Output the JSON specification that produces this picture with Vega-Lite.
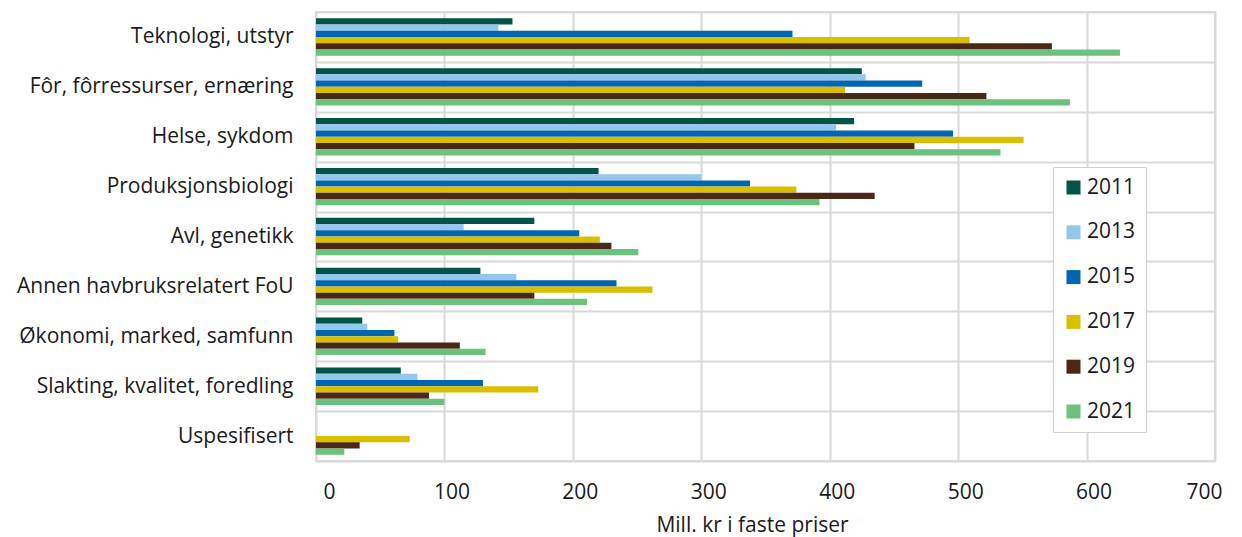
{
  "$schema": "https://vega.github.io/schema/vega-lite/v6.json",
  "width": 899,
  "height": 449,
  "autosize": {"type": "none"},
  "padding": {"left": 316, "top": 12, "right": 27, "bottom": 76},
  "background": "white",
  "config": {"font": "Open Sans", "view": {"stroke": "#d9d9d9", "strokeWidth": 2}},
  "data": {
    "values": [
      {"kategori": "Teknologi, utstyr", "aar": "2011", "verdi": 153},
      {"kategori": "Teknologi, utstyr", "aar": "2013", "verdi": 142},
      {"kategori": "Teknologi, utstyr", "aar": "2015", "verdi": 371},
      {"kategori": "Teknologi, utstyr", "aar": "2017", "verdi": 509},
      {"kategori": "Teknologi, utstyr", "aar": "2019", "verdi": 573},
      {"kategori": "Teknologi, utstyr", "aar": "2021", "verdi": 626},
      {"kategori": "Fôr, fôrressurser, ernæring", "aar": "2011", "verdi": 425},
      {"kategori": "Fôr, fôrressurser, ernæring", "aar": "2013", "verdi": 428},
      {"kategori": "Fôr, fôrressurser, ernæring", "aar": "2015", "verdi": 472},
      {"kategori": "Fôr, fôrressurser, ernæring", "aar": "2017", "verdi": 412},
      {"kategori": "Fôr, fôrressurser, ernæring", "aar": "2019", "verdi": 522},
      {"kategori": "Fôr, fôrressurser, ernæring", "aar": "2021", "verdi": 587},
      {"kategori": "Helse, sykdom", "aar": "2011", "verdi": 419},
      {"kategori": "Helse, sykdom", "aar": "2013", "verdi": 405},
      {"kategori": "Helse, sykdom", "aar": "2015", "verdi": 496},
      {"kategori": "Helse, sykdom", "aar": "2017", "verdi": 551},
      {"kategori": "Helse, sykdom", "aar": "2019", "verdi": 466},
      {"kategori": "Helse, sykdom", "aar": "2021", "verdi": 533},
      {"kategori": "Produksjonsbiologi", "aar": "2011", "verdi": 220},
      {"kategori": "Produksjonsbiologi", "aar": "2013", "verdi": 300},
      {"kategori": "Produksjonsbiologi", "aar": "2015", "verdi": 338},
      {"kategori": "Produksjonsbiologi", "aar": "2017", "verdi": 374},
      {"kategori": "Produksjonsbiologi", "aar": "2019", "verdi": 435},
      {"kategori": "Produksjonsbiologi", "aar": "2021", "verdi": 392},
      {"kategori": "Avl, genetikk", "aar": "2011", "verdi": 170},
      {"kategori": "Avl, genetikk", "aar": "2013", "verdi": 115},
      {"kategori": "Avl, genetikk", "aar": "2015", "verdi": 205},
      {"kategori": "Avl, genetikk", "aar": "2017", "verdi": 221},
      {"kategori": "Avl, genetikk", "aar": "2019", "verdi": 230},
      {"kategori": "Avl, genetikk", "aar": "2021", "verdi": 251},
      {"kategori": "Annen havbruksrelatert FoU", "aar": "2011", "verdi": 128},
      {"kategori": "Annen havbruksrelatert FoU", "aar": "2013", "verdi": 156},
      {"kategori": "Annen havbruksrelatert FoU", "aar": "2015", "verdi": 234},
      {"kategori": "Annen havbruksrelatert FoU", "aar": "2017", "verdi": 262},
      {"kategori": "Annen havbruksrelatert FoU", "aar": "2019", "verdi": 170},
      {"kategori": "Annen havbruksrelatert FoU", "aar": "2021", "verdi": 211},
      {"kategori": "Økonomi, marked, samfunn", "aar": "2011", "verdi": 36},
      {"kategori": "Økonomi, marked, samfunn", "aar": "2013", "verdi": 40},
      {"kategori": "Økonomi, marked, samfunn", "aar": "2015", "verdi": 61},
      {"kategori": "Økonomi, marked, samfunn", "aar": "2017", "verdi": 64},
      {"kategori": "Økonomi, marked, samfunn", "aar": "2019", "verdi": 112},
      {"kategori": "Økonomi, marked, samfunn", "aar": "2021", "verdi": 132},
      {"kategori": "Slakting, kvalitet, foredling", "aar": "2011", "verdi": 66},
      {"kategori": "Slakting, kvalitet, foredling", "aar": "2013", "verdi": 79},
      {"kategori": "Slakting, kvalitet, foredling", "aar": "2015", "verdi": 130},
      {"kategori": "Slakting, kvalitet, foredling", "aar": "2017", "verdi": 173},
      {"kategori": "Slakting, kvalitet, foredling", "aar": "2019", "verdi": 88},
      {"kategori": "Slakting, kvalitet, foredling", "aar": "2021", "verdi": 100},
      {"kategori": "Uspesifisert", "aar": "2017", "verdi": 73},
      {"kategori": "Uspesifisert", "aar": "2019", "verdi": 34},
      {"kategori": "Uspesifisert", "aar": "2021", "verdi": 22}
    ]
  },
  "mark": {"type": "bar"},
  "encoding": {
    "y": {
      "field": "kategori",
      "type": "nominal",
      "sort": null,
      "scale": {"paddingInner": 0, "paddingOuter": 0},
      "axis": {
        "title": null,
        "tickBand": "extent",
        "grid": true,
        "gridColor": "#d9d9d9",
        "gridWidth": 2,
        "ticks": false,
        "domain": false,
        "labelFontSize": 21,
        "labelColor": "#1a1a1a",
        "labelPadding": 23,
        "labelLimit": 400
      }
    },
    "yOffset": {
      "field": "aar",
      "type": "nominal",
      "scale": {"paddingInner": 0, "paddingOuter": 1.15}
    },
    "x": {
      "field": "verdi",
      "type": "quantitative",
      "scale": {"domain": [0, 700], "nice": false},
      "axis": {
        "values": [0, 100, 200, 300, 400, 500, 600, 700],
        "title": "Mill. kr i faste priser",
        "grid": true,
        "gridColor": "#d9d9d9",
        "gridWidth": 2,
        "ticks": false,
        "domain": false,
        "labelFontSize": 21,
        "labelColor": "#1a1a1a",
        "labelPadding": 20,
        "labelOffset": 7,
        "titleFontSize": 21,
        "titleFontWeight": "normal",
        "titleColor": "#1a1a1a",
        "titlePadding": 12,
        "titleX": 436
      }
    },
    "color": {
      "field": "aar",
      "type": "nominal",
      "scale": {
        "domain": ["2011", "2013", "2015", "2017", "2019", "2021"],
        "range": ["#005547", "#95C7EC", "#0066B3", "#D9BF00", "#4A2816", "#6CC17E"]
      },
      "legend": {
        "title": null,
        "orient": "none",
        "legendX": 737,
        "legendY": 155,
        "padding": 10,
        "strokeColor": "#d0d0d0",
        "fillColor": "white",
        "symbolType": "square",
        "symbolSize": 196,
        "symbolStrokeWidth": 0,
        "symbolOpacity": 1,
        "labelFontSize": 21,
        "labelColor": "#1a1a1a",
        "labelOffset": 3,
        "rowPadding": 22.8
      }
    }
  }
}
